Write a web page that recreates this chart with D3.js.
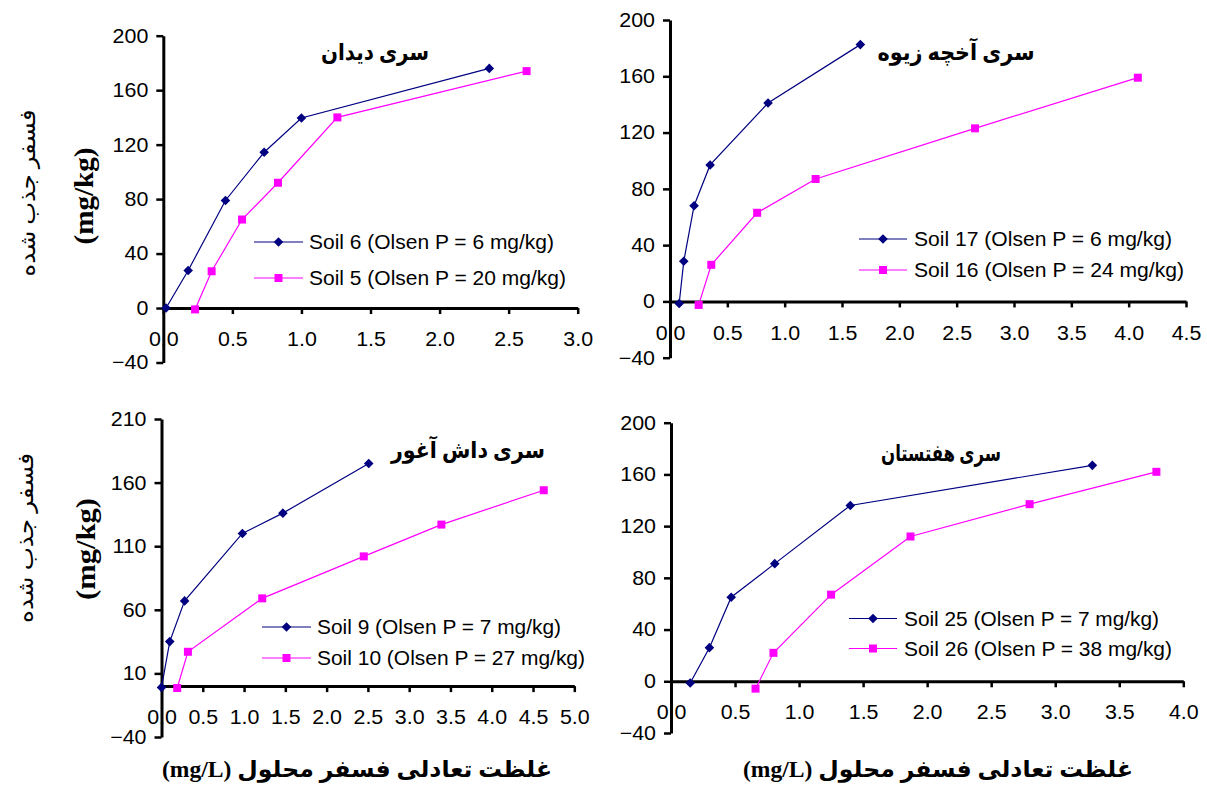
<!DOCTYPE html>
<html>
<head>
<meta charset="utf-8">
<script src="https://cdn.jsdelivr.net/npm/d3@7"></script>
<style>
  body { margin: 0; background: #fff; }
  svg { display: block; }
</style>
</head>
<body>
<svg id="chart" width="1207" height="787"></svg>
<script>
// ---- data ----
var soil6X = [0.02, 0.18, 0.45, 0.73, 1.00, 2.36];
var soil6Y = [0, 27.6, 79, 114.4, 139.6, 176];
var soil5X = [0.23, 0.35, 0.57, 0.83, 1.26, 2.63];
var soil5Y = [-1, 27, 65, 92, 140, 174];

var soil17X = [0.08, 0.12, 0.21, 0.35, 0.855, 1.66];
var soil17Y = [-1.5, 28.5, 68, 97, 141, 182.5];
var soil16X = [0.25, 0.36, 0.76, 1.27, 2.66, 4.08];
var soil16Y = [-2.5, 26, 63, 87, 123, 159];

var soil9X = [0.00, 0.10, 0.28, 0.98, 1.47, 2.51];
var soil9Y = [-1, 35, 67, 120, 136, 175];
var soil10X = [0.19, 0.32, 1.22, 2.45, 3.39, 4.63];
var soil10Y = [-1.5, 27, 69, 102, 127, 154];

var soil25X = [0.15, 0.30, 0.47, 0.81, 1.40, 3.29];
var soil25Y = [-1.3, 26, 65, 91, 136, 167];
var soil26X = [0.66, 0.80, 1.25, 1.87, 2.80, 3.79];
var soil26Y = [-5.7, 22, 67, 112, 137, 162];

var xTicks30 = [0, 0.5, 1.0, 1.5, 2.0, 2.5, 3.0];
var xTicks45 = [0, 0.5, 1.0, 1.5, 2.0, 2.5, 3.0, 3.5, 4.0, 4.5];
var xTicks50 = [0, 0.5, 1.0, 1.5, 2.0, 2.5, 3.0, 3.5, 4.0, 4.5, 5.0];
var xTicks40 = [0, 0.5, 1.0, 1.5, 2.0, 2.5, 3.0, 3.5, 4.0];
var yTicks200 = [-40, 0, 40, 80, 120, 160, 200];
var yTicks210 = [-40, 10, 60, 110, 160, 210];

var titles = ["سری دیدان", "سری آخچه زیوه", "سری داش آغور", "سری هفتستان"];
var seriesNames = [
  ["Soil 6 (Olsen P = 6 mg/kg)", "Soil 5 (Olsen P = 20 mg/kg)"],
  ["Soil 17 (Olsen P = 6 mg/kg)", "Soil 16 (Olsen P = 24 mg/kg)"],
  ["Soil 9 (Olsen P = 7 mg/kg)", "Soil 10 (Olsen P = 27 mg/kg)"],
  ["Soil 25 (Olsen P = 7 mg/kg)", "Soil 26 (Olsen P = 38 mg/kg)"]
];
var yLabelFa = "فسفر جذب شده";
var yLabelUnit = "(mg/kg)";
var xLabel = "غلظت تعادلی فسفر محلول (mg/L)";

// ---- layout ----
var panels = [
  { left: 163.3, right: 577.7, top: 35.7, bottom: 362.5, xMax: 3.0, yMin: -40, yMax: 200,
    xTicks: xTicks30, yTicks: yTicks200,
    a: [soil6X, soil6Y], b: [soil5X, soil5Y],
    title: { x: 375, y: 52, w: 108 },
    leg: { x1: 254, x2: 303, tx: 309, y1: 242, y2: 278, w1: 245, w2: 257 } },
  { left: 670, right: 1186, top: 20, bottom: 357.7, xMax: 4.5, yMin: -40, yMax: 200,
    xTicks: xTicks45, yTicks: yTicks200,
    a: [soil17X, soil17Y], b: [soil16X, soil16Y],
    title: { x: 956, y: 52, w: 157 },
    leg: { x1: 859, x2: 907, tx: 914, y1: 239, y2: 270, w1: 258, w2: 270 } },
  { left: 161.5, right: 574.3, top: 419, bottom: 737, xMax: 5.0, yMin: -40, yMax: 210,
    xTicks: xTicks50, yTicks: yTicks210,
    a: [soil9X, soil9Y], b: [soil10X, soil10Y],
    title: { x: 468, y: 450, w: 154 },
    leg: { x1: 262, x2: 311, tx: 317, y1: 627, y2: 658, w1: 244, w2: 268 } },
  { left: 671, right: 1183.3, top: 422.7, bottom: 733, xMax: 4.0, yMin: -40, yMax: 200,
    xTicks: xTicks40, yTicks: yTicks200,
    a: [soil25X, soil25Y], b: [soil26X, soil26Y],
    title: { x: 941, y: 453, w: 120 },
    leg: { x1: 849, x2: 897, tx: 904, y1: 618.5, y2: 648.5, w1: 255, w2: 268 } }
];

var numFont = "'Liberation Sans', Arial, sans-serif";
var faFont = "'Liberation Serif', 'DejaVu Sans', serif";
var blue = "#000080", pink = "#FF00FF";
var diamond = "M0,-4.8L4.8,0L0,4.8L-4.8,0Z";
var square = "M-4,-4H4V4H-4Z";

var svg = d3.select("#chart");

function stretch(sel, k) {
  sel.each(function() {
    var w = this.getComputedTextLength();
    d3.select(this).attr("textLength", w * k).attr("lengthAdjust", "spacingAndGlyphs");
  });
}

function fit(sel, w) {
  sel.attr("textLength", w).attr("lengthAdjust", "spacingAndGlyphs");
}

function drawPanel(p, i) {
  var x = d3.scaleLinear().domain([0, p.xMax]).range([p.left, p.right]);
  var y = d3.scaleLinear().domain([p.yMin, p.yMax]).range([p.bottom, p.top]);
  var g = svg.append("g");

  var xAxis = d3.axisBottom(x).tickValues(p.xTicks).tickFormat(d3.format(".1f"))
    .tickSize(6).tickPadding(18).tickSizeOuter(0);
  var yAxis = d3.axisLeft(y).tickValues(p.yTicks).tickFormat(d3.format("d"))
    .tickSize(7).tickPadding(8).tickSizeOuter(0);

  var gx = g.append("g").attr("transform", "translate(0," + y(0) + ")").call(xAxis);
  var gy = g.append("g").attr("transform", "translate(" + x(0) + ",0)").call(yAxis);

  [gx, gy].forEach(function(a) {
    a.select(".domain").attr("stroke", "#000").attr("stroke-width", 3);
    a.selectAll(".tick line").attr("stroke", "#000").attr("stroke-width", 2.5);
    a.selectAll(".tick text").attr("font-family", numFont).attr("font-size", 20).attr("fill", "#000");
    stretch(a.selectAll(".tick text"), 1.07);
  });
  // keep the y axis line above the "0.0" label
  gy.raise();

  var line = d3.line().x(function(d) { return x(d[0]); }).y(function(d) { return y(d[1]); });

  [[p.a, blue, diamond], [p.b, pink, square]].forEach(function(s) {
    var pts = d3.zip(s[0][0], s[0][1]);
    g.append("path").datum(pts).attr("d", line)
      .attr("fill", "none").attr("stroke", s[1]).attr("stroke-width", 1.2);
    g.selectAll(null).data(pts).enter().append("path")
      .attr("d", s[2])
      .attr("transform", function(d) { return "translate(" + x(d[0]) + "," + y(d[1]) + ")"; })
      .attr("fill", s[1]);
  });

  // title
  g.append("text")
    .attr("x", p.title.x).attr("y", p.title.y)
    .attr("text-anchor", "middle").attr("dominant-baseline", "central")
    .attr("direction", "rtl")
    .attr("font-family", faFont).attr("font-weight", "bold").attr("font-size", 23)
    .text(titles[i])
    .call(fit, p.title.w);

  // legend
  var L = p.leg;
  [[L.y1, blue, diamond, seriesNames[i][0], L.w1], [L.y2, pink, square, seriesNames[i][1], L.w2]].forEach(function(r) {
    g.append("line").attr("x1", L.x1).attr("x2", L.x2).attr("y1", r[0]).attr("y2", r[0])
      .attr("stroke", r[1]).attr("stroke-width", 1.2);
    g.append("path").attr("d", r[2])
      .attr("transform", "translate(" + ((L.x1 + L.x2) / 2) + "," + r[0] + ")")
      .attr("fill", r[1]);
    g.append("text").attr("x", L.tx).attr("y", r[0])
      .attr("dominant-baseline", "central")
      .attr("font-family", numFont).attr("font-size", 20).attr("fill", "#000")
      .text(r[3])
      .call(fit, r[4]);
  });
}

panels.forEach(drawPanel);

// axis titles
[[193, 196, 167, 97], [538, 549, 170, 102]].forEach(function(r, k) {
  svg.append("text")
    .attr("transform", "translate(" + (k ? 25 : 27) + "," + r[0] + ") rotate(-90)")
    .attr("text-anchor", "middle").attr("dominant-baseline", "central")
    .attr("direction", "rtl")
    .attr("font-family", faFont).attr("font-size", 22)
    .text(yLabelFa)
    .call(fit, r[2]);
  svg.append("text")
    .attr("transform", "translate(" + (k ? 85 : 83) + "," + r[1] + ") rotate(-90)")
    .attr("text-anchor", "middle").attr("dominant-baseline", "central")
    .attr("font-family", faFont).attr("font-weight", "bold").attr("font-size", 28)
    .text(yLabelUnit)
    .call(fit, r[3]);
});

[357, 938].forEach(function(cx) {
  svg.append("text")
    .attr("x", cx).attr("y", 769)
    .attr("text-anchor", "middle").attr("dominant-baseline", "central")
    .attr("direction", "rtl")
    .attr("font-family", faFont).attr("font-weight", "bold").attr("font-size", 23)
    .text(xLabel)
    .call(fit, 390);
});
</script>
</body>
</html>
